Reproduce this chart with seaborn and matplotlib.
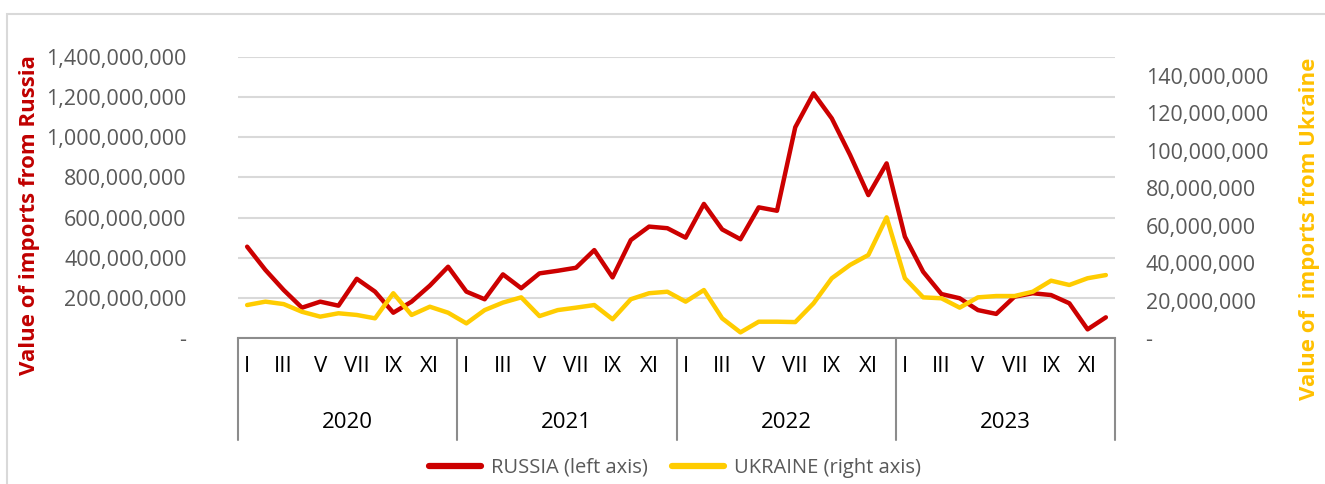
import matplotlib
matplotlib.use("Agg")
import matplotlib.pyplot as plt
import seaborn as sns
import pandas as pd
from matplotlib.lines import Line2D
from matplotlib.patches import Rectangle
from matplotlib.ticker import FuncFormatter

# -----------------------------------
# DATA
# -----------------------------------
years = ["2020", "2021", "2022", "2023"]
months = ["I", "II", "III", "IV", "V", "VI", "VII", "VIII", "IX", "X", "XI", "XII"]
shown_months = ["I", "III", "V", "VII", "IX", "XI"]

russia = [
    455e6, 339e6, 239e6, 151e6, 181e6, 161e6, 295e6, 231e6, 126e6, 181e6, 261e6, 355e6,
    231e6, 193e6, 317e6, 248e6, 322e6, 335e6, 350e6, 438e6, 302e6, 488e6, 555e6, 547e6,
    500e6, 668e6, 541e6, 492e6, 651e6, 634e6, 1050e6, 1219e6, 1094e6, 912e6, 712e6, 870e6,
    505e6, 330e6, 219e6, 198e6, 139e6, 120e6, 206e6, 223e6, 214e6, 173e6, 43e6, 103e6,
]
ukraine = [
    17.6e6, 19.4e6, 18.1e6, 14.0e6, 11.4e6, 13.2e6, 12.3e6, 10.5e6, 23.9e6, 12.3e6, 16.7e6, 13.5e6,
    7.8e6, 14.9e6, 18.9e6, 21.7e6, 11.7e6, 14.9e6, 16.2e6, 17.6e6, 10.0e6, 20.7e6, 23.9e6, 24.7e6,
    19.4e6, 25.6e6, 10.5e6, 3.0e6, 8.7e6, 8.7e6, 8.5e6, 18.5e6, 31.9e6, 39.0e6, 44.3e6, 64.4e6,
    31.9e6, 21.7e6, 21.2e6, 16.2e6, 21.7e6, 22.4e6, 22.4e6, 24.7e6, 30.6e6, 28.3e6, 31.9e6, 33.6e6,
]

df = pd.DataFrame({
    "idx": range(len(russia)),
    "year": [y for y in years for _ in months],
    "month": months * len(years),
    "russia": russia,
    "ukraine": ukraine,
})

# -----------------------------------
# STYLE
# -----------------------------------
sns.set_style("white")
plt.rcParams["font.family"] = ["Open Sans", "DejaVu Sans"]

W, H = 1325, 484
fig = plt.figure(figsize=(W / 100, H / 100), dpi=100)

x0, x1, ytop, ybot = 238, 1115, 57, 338
ax = fig.add_axes([x0 / W, 1 - ybot / H, (x1 - x0) / W, (ybot - ytop) / H])
ax2 = ax.twinx()

red = "#CC0000"
yellow = "#FFCC00"
tick_grey = "#595959"

sns.lineplot(data=df, x="idx", y="russia", ax=ax, color=red, linewidth=3.2, legend=False)
sns.lineplot(data=df, x="idx", y="ukraine", ax=ax2, color=yellow, linewidth=3.2, legend=False)

n = len(df)
ax.set_xlim(-0.5, n - 0.5)
ax.set_ylim(0, 1.4e9)
ax2.set_ylim(0, 150e6)

ax.set_yticks([i * 200e6 for i in range(8)])
ax2.set_yticks([i * 20e6 for i in range(8)])

fmt = FuncFormatter(lambda v, p: "-" if v == 0 else f"{v:,.0f}")
ax.yaxis.set_major_formatter(fmt)
ax2.yaxis.set_major_formatter(fmt)

ax.grid(axis="y", color="#D9D9D9", linewidth=1.5)
ax.set_axisbelow(True)

for a in (ax, ax2):
    for s in a.spines.values():
        s.set_visible(False)
    a.set_xlabel("")
    a.set_ylabel("")

ax.spines["bottom"].set_visible(True)
ax.spines["bottom"].set_color("#8C8C8C")
ax.spines["bottom"].set_linewidth(1.5)

ax.tick_params(axis="y", length=0, labelsize=15.5, labelcolor=tick_grey, pad=37)
ax2.tick_params(axis="y", length=0, labelsize=15.5, labelcolor=tick_grey, pad=22)

# month tick labels (every second month)
month_pos = [i for i in range(n) if df["month"][i] in shown_months]
ax.set_xticks(month_pos)
ax.set_xticklabels([df["month"][i] for i in month_pos])
ax.tick_params(axis="x", length=0, labelsize=16, labelcolor="black", pad=13)

# year group separators and labels
sep_tr = ax.get_xaxis_transform()
sep_len = (440 - ybot) / (ybot - ytop)
for k in range(len(years) + 1):
    xs = k * len(months) - 0.5
    ax.plot([xs, xs], [0, -sep_len], transform=sep_tr, color="#8C8C8C",
            linewidth=1.5, clip_on=False)
for k, yr in enumerate(years):
    xc = k * len(months) + (len(months) - 1) / 2
    ax.text(xc, -(423 - ybot) / (ybot - ytop), yr, transform=sep_tr,
            ha="center", va="center", fontsize=16, color="black")

# axis titles
fig.text(30 / W, 1 - 215 / H, "Value of imports from Russia", rotation=90,
         ha="center", va="center", fontsize=16, fontweight="bold", color="#C00000")
fig.text(1309 / W, 1 - 229 / H, "Value of  imports from Ukraine", rotation=90,
         ha="center", va="center", fontsize=16, fontweight="bold", color="#FFC000")

# legend
handles = [
    Line2D([], [], color=red, linewidth=4.5, solid_capstyle="round"),
    Line2D([], [], color=yellow, linewidth=4.5, solid_capstyle="round"),
]
fig.legend(handles, ["RUSSIA (left axis)", "UKRAINE (right axis)"],
           loc="center", bbox_to_anchor=(675 / W, 1 - 468 / H), ncol=2,
           frameon=False, fontsize=14.5, labelcolor=tick_grey,
           handlelength=2.6, columnspacing=1.2, handletextpad=0.5)

# chart-area border
fig.patches.append(Rectangle((7 / W, -0.1), 1.2, 1 - 14 / H + 0.1,
                             transform=fig.transFigure, fill=False,
                             edgecolor="#D9D9D9", linewidth=1.5))

fig.savefig("out.png", dpi=100)
